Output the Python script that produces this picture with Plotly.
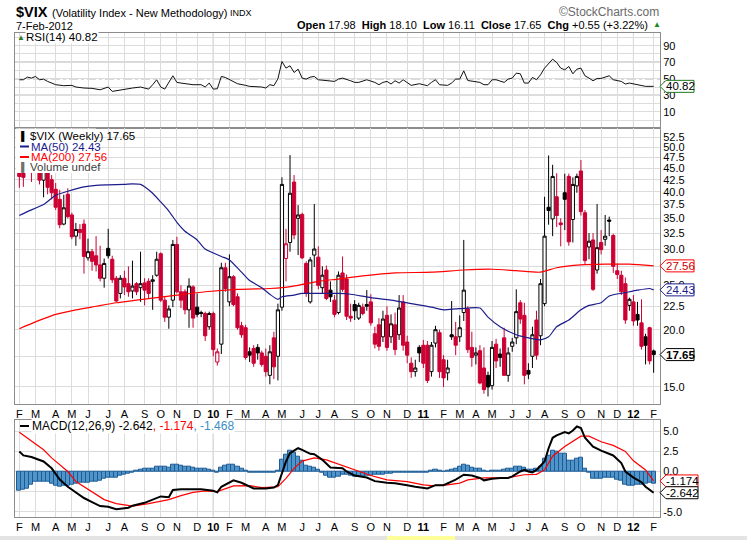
import math
import pandas as pd
import plotly.graph_objects as go

W, H = 747, 540
FONT = "Liberation Sans, Arial, sans-serif"
GRID = "#dcdcdc"
YEARLINE = "#a8a8a8"
FRAME = "#8c8c8c"
RED = "#cc0033"

# weekly bars, first bar is the week of 2009-02-02, last is the partial week of 2012-02-06
start_week = "2009-02-02"

opens = [45.5, 44.8, 45.0, 49.9, 46.0, 49.3, 42.4, 45.9, 42.5, 40.5,
         38.5, 34.0, 39.5, 35.6, 32.0, 33.1, 34.0, 28.7, 29.6, 29.0,
         27.7, 25.9, 30.1, 28.5, 25.9, 24.0, 25.9, 25.2, 24.3, 25.2,
         24.7, 25.3, 25.5, 25.5, 26.3, 29.3, 23.2, 21.3, 23.2, 30.7,
         24.2, 24.2, 22.1, 24.8, 22.4, 21.8, 21.7, 20.3, 21.7, 17.0,
         18.6, 27.3, 23.0, 26.1, 23.6, 20.4, 20.2, 17.9, 18.2, 18.3,
         17.8, 17.5, 15.9, 19.2, 17.5, 22.4, 28.6, 31.0, 42.0, 35.0,
         35.7, 27.9, 23.0, 29.1, 28.8, 24.7, 27.0, 24.4, 23.2, 21.8,
         26.6, 25.8, 21.4, 22.7, 21.2, 22.4, 22.7, 23.0, 19.6, 20.5,
         19.3, 21.5, 19.3, 20.5, 19.5, 23.0, 18.8, 16.9, 16.2, 18.3,
         18.5, 18.5, 16.2, 18.7, 19.7, 17.2, 16.1, 19.5, 19.3, 19.3,
         21.8, 22.2, 18.3, 17.6, 18.0, 16.5, 15.9, 15.1, 18.6, 17.7,
         19.2, 15.9, 18.4, 19.2, 22.9, 21.5, 16.3, 17.5, 21.0, 19.4,
         22.8, 37.0, 34.9, 39.0, 34.2, 39.8, 43.2, 34.8, 41.2, 44.4,
         36.0, 30.3, 31.4, 27.0, 31.0, 31.5, 34.7, 32.1, 26.9, 26.3,
         25.2, 22.6, 23.0, 21.6, 20.7, 19.3, 20.2, 17.98]
highs = [47.8, 46.5, 51.5, 52.5, 53.2, 50.0, 47.0, 46.5, 43.5, 41.8,
         40.4, 39.4, 40.7, 36.0, 34.2, 34.0, 34.8, 31.6, 30.0, 32.0,
         30.5, 28.6, 33.2, 29.0, 26.2, 26.3, 26.9, 27.5, 28.3, 25.4,
         29.6, 25.9, 25.9, 26.3, 29.6, 29.5, 23.6, 22.6, 31.4, 31.9,
         25.0, 24.5, 25.9, 25.0, 24.0, 22.0, 21.9, 21.9, 21.9, 18.2,
         28.0, 28.0, 29.2, 26.3, 24.0, 20.8, 20.5, 18.3, 18.5, 18.6,
         18.0, 18.2, 18.5, 19.8, 22.8, 43.0, 33.2, 48.1, 43.5, 37.4,
         36.0, 28.2, 28.8, 37.6, 30.4, 27.5, 27.6, 25.5, 23.8, 26.8,
         28.9, 26.4, 22.8, 23.2, 22.9, 22.8, 24.4, 23.9, 20.3, 21.2,
         22.0, 22.5, 21.6, 21.8, 23.8, 23.8, 19.4, 17.4, 17.2, 18.5,
         19.0, 18.9, 18.8, 20.4, 20.0, 17.6, 17.2, 23.1, 20.8, 21.5,
         31.4, 22.5, 19.8, 18.3, 18.5, 18.3, 16.2, 18.9, 19.1, 18.2,
         20.2, 18.3, 19.2, 24.5, 23.2, 22.9, 16.9, 20.3, 22.0, 25.8,
         39.0, 48.0, 45.8, 43.9, 35.0, 43.8, 43.8, 43.0, 43.8, 46.9,
         36.5, 32.5, 32.5, 37.6, 33.0, 35.6, 35.3, 32.4, 27.9, 26.9,
         26.0, 23.5, 23.8, 23.0, 23.3, 19.6, 20.3, 18.10]
lows = [40.8, 41.0, 44.8, 42.0, 45.0, 41.5, 38.9, 39.5, 38.5, 36.5,
        33.3, 33.8, 35.0, 31.5, 30.5, 31.5, 26.5, 28.3, 26.9, 26.8,
        25.5, 24.7, 28.6, 25.3, 23.0, 23.4, 23.8, 23.6, 23.4, 23.8,
        23.0, 22.6, 23.4, 22.1, 26.1, 23.0, 20.8, 20.1, 22.4, 24.0,
        22.3, 21.6, 20.2, 20.2, 21.3, 21.3, 18.9, 20.0, 17.5, 16.7,
        17.7, 24.2, 22.5, 22.5, 20.0, 19.2, 17.2, 17.0, 16.6, 17.2,
        16.6, 15.8, 15.2, 15.6, 15.5, 22.0, 25.5, 29.6, 31.5, 29.1,
        28.5, 23.6, 22.8, 27.4, 24.5, 24.0, 23.2, 23.0, 21.3, 21.6,
        24.2, 21.0, 20.8, 21.0, 21.0, 21.5, 22.0, 20.4, 18.2, 18.0,
        18.8, 18.0, 18.7, 17.6, 19.0, 18.0, 16.9, 15.7, 15.8, 17.0,
        16.5, 15.3, 15.8, 18.3, 15.7, 15.0, 15.5, 19.0, 17.6, 18.8,
        20.9, 17.8, 16.6, 16.8, 15.2, 14.5, 14.3, 14.8, 16.5, 16.6,
        15.9, 15.4, 17.9, 18.6, 20.6, 15.2, 15.6, 16.5, 17.2, 18.5,
        22.5, 33.9, 32.0, 33.5, 30.4, 33.0, 30.5, 31.0, 39.8, 35.5,
        27.8, 28.5, 24.3, 26.5, 29.2, 30.5, 32.0, 26.6, 25.8, 23.8,
        20.6, 22.0, 20.4, 20.4, 18.1, 16.8, 16.8, 16.11]
closes = [43.2, 43.0, 49.9, 46.4, 49.3, 42.4, 45.9, 40.9, 39.8, 37.0,
          33.9, 36.9, 35.3, 31.9, 33.1, 32.6, 28.9, 29.6, 28.2, 27.7,
          25.9, 27.9, 29.0, 25.7, 23.1, 25.9, 24.8, 24.2, 24.9, 24.2,
          25.2, 24.4, 24.0, 25.7, 28.5, 23.2, 21.3, 22.2, 30.7, 24.2,
          23.2, 22.1, 24.9, 21.2, 21.6, 21.7, 19.4, 21.7, 18.1, 17.9,
          27.3, 24.6, 26.1, 22.7, 20.2, 19.5, 17.4, 17.6, 16.9, 17.8,
          16.8, 16.2, 17.9, 16.6, 22.1, 41.5, 30.8, 39.7, 32.2, 35.6,
          28.7, 24.0, 28.4, 30.0, 25.0, 26.3, 23.4, 23.6, 21.6, 26.3,
          24.5, 21.4, 21.2, 22.0, 22.6, 21.7, 22.5, 20.7, 18.6, 18.4,
          21.1, 18.3, 20.6, 18.1, 22.3, 18.5, 17.6, 16.2, 16.5, 17.8,
          16.9, 15.5, 18.5, 20.0, 16.2, 15.7, 16.5, 19.3, 18.5, 20.2,
          24.4, 18.1, 17.4, 17.8, 15.3, 14.8, 15.0, 18.3, 17.1, 17.4,
          15.9, 17.8, 18.8, 21.9, 21.1, 15.9, 16.0, 19.5, 17.6, 25.2,
          32.0, 36.4, 43.2, 35.5, 33.9, 38.5, 31.1, 41.5, 43.2, 36.2,
          28.3, 31.2, 24.5, 30.2, 29.9, 32.0, 34.5, 27.5, 26.4, 24.2,
          21.0, 23.3, 20.9, 21.0, 18.4, 18.5, 17.1, 17.65]

# moving averages: (week number, value)
ma50_weeks = [0, 2, 6, 9, 12, 16, 19, 22, 26, 28, 30, 31, 33, 35, 37, 39, 41, 44, 46,
              50, 52, 55, 57, 60, 62, 64, 65, 68, 70, 74, 79, 82, 87, 92, 97, 102, 105,
              108, 111, 114, 116, 119, 123, 126, 129, 131, 133, 136, 139, 141, 144, 146,
              150, 153, 156, 157]
ma50 = [35.5, 36.2, 37.5, 39.3, 40.1, 41.0, 41.3, 41.4, 41.5, 41.6, 41.5, 41.0, 39.7,
        38.0, 36.3, 34.3, 32.8, 31.4, 30.0, 28.9, 28.4, 26.7, 25.6, 24.7, 23.9, 23.3,
        23.6, 23.8, 24.0, 24.0, 24.0, 23.9, 23.5, 23.2, 22.8, 22.4, 22.1, 22.2, 22.3,
        22.3, 21.3, 20.3, 19.5, 19.2, 19.0, 19.3, 20.3, 21.0, 22.1, 22.6, 22.9, 23.7,
        24.1, 24.4, 24.6, 24.43]
ma200_weeks = [0, 4, 9, 14, 19, 24, 29, 34, 39, 46, 54, 62, 65, 69, 74, 79, 85, 93,
               102, 110, 117, 123, 129, 133, 139, 145, 151, 157]
ma200 = [20.1, 20.8, 21.6, 22.1, 22.5, 22.9, 23.2, 23.5, 23.8, 24.2, 24.5, 24.6, 24.7,
         25.0, 25.5, 25.8, 26.2, 26.6, 26.7, 27.0, 27.1, 26.9, 26.7, 27.3, 27.7, 27.8,
         27.8, 27.56]

rsi_weeks = [0, 1, 2, 3, 4, 5, 6, 7, 9, 11, 13, 14, 16, 18, 20, 22, 23, 25, 26, 28,
             30, 32, 33, 34, 35, 36, 38, 39, 40, 41, 43, 45, 46, 47, 48, 49, 50, 51,
             52, 54, 56, 57, 60, 61, 62, 63, 64, 65, 66, 67, 68, 69, 70, 71, 72, 73,
             74, 76, 78, 79, 80, 82, 83, 84, 86, 88, 89, 90, 91, 92, 93, 94, 95, 97,
             99, 100, 101, 102, 103, 104, 106, 107, 108, 109, 110, 111, 113, 114, 115,
             116, 117, 118, 120, 121, 122, 123, 124, 125, 126, 127, 128, 129, 130,
             131, 132, 133, 134, 135, 136, 137, 138, 139, 140, 141, 142, 143, 144,
             146, 147, 149, 150, 151, 153, 154, 155, 157]
rsi = [48.8, 48.8, 52.0, 50.8, 52.8, 48.8, 49.5, 46.8, 42.8, 41.6, 42.0, 40.0, 38.8,
       38.4, 36.7, 40.0, 34.7, 36.7, 37.5, 38.8, 40.0, 37.5, 42.8, 48.8, 40.0, 37.5,
       53.6, 45.6, 44.8, 44.0, 42.8, 42.8, 40.0, 44.8, 37.5, 37.9, 52.8, 51.6, 48.8,
       44.0, 42.0, 40.8, 40.0, 38.8, 42.8, 41.6, 50.0, 70.9, 62.9, 65.7, 57.6, 61.6,
       50.8, 49.6, 52.0, 52.8, 48.8, 47.6, 46.8, 49.6, 50.8, 47.6, 45.6, 45.6, 48.8,
       45.6, 42.8, 45.6, 46.8, 43.6, 47.6, 44.8, 48.8, 42.0, 44.0, 42.8, 41.6, 45.6,
       48.8, 42.8, 42.0, 44.8, 49.6, 49.6, 59.6, 47.9, 46.8, 45.6, 42.8, 42.8, 48.8,
       48.8, 45.6, 49.6, 50.8, 56.8, 56.0, 44.8, 44.8, 51.6, 48.8, 54.8, 62.9, 67.7,
       73.7, 69.7, 62.9, 60.8, 64.9, 56.0, 61.6, 62.9, 53.6, 50.8, 47.6, 50.4, 50.4,
       53.6, 48.8, 46.8, 43.6, 44.8, 42.8, 42.0, 40.8, 40.82]

macd_weeks = [0, 1, 3, 4, 6, 8, 10, 12, 14, 16, 18, 20, 22, 24, 27, 28, 31, 33, 35, 37,
              38, 40, 42, 45, 48, 49, 50, 53, 55, 57, 58, 61, 63, 64, 65, 66, 67, 69,
              70, 72, 73, 75, 77, 80, 81, 83, 86, 88, 91, 93, 96, 98, 101, 103, 105,
              108, 110, 112, 114, 115, 117, 119, 121, 122, 124, 125, 126, 127, 128,
              130, 131, 132, 133, 135, 136, 137, 138, 139, 140, 142, 144, 145, 147,
              149, 150, 152, 154, 155, 157]
macd = [2.5, 2.0, 1.8, 1.6, 1.25, 0.4, -1.0, -1.9, -2.6, -3.3, -3.8, -4.3, -4.4, -4.7,
        -4.5, -4.25, -3.9, -3.5, -3.1, -3.2, -2.3, -2.2, -2.2, -2.2, -2.4, -2.6, -1.9,
        -1.1, -1.4, -1.9, -2.1, -2.1, -2.0, -1.7, -0.2, 1.25, 2.3, 2.9, 2.7, 2.2, 2.15,
        1.45, 0.5, 0.4, 0.0, -0.5, -0.75, -1.2, -1.4, -1.45, -1.7, -1.9, -2.1, -1.7,
        -1.7, -1.0, -0.4, -0.5, -0.8, -1.1, -0.9, -0.8, -0.8, -0.6, 0.0, 0.2, 0.0, -0.1,
        0.2, 1.25, 2.9, 4.2, 4.5, 4.9, 4.75, 5.1, 5.6, 5.4, 4.2, 3.1, 2.6, 2.4, 2.0,
        1.05, 0.0, -0.75, -1.33, -1.9, -2.642]
signal_weeks = [0, 4, 6, 8, 12, 14, 18, 21, 24, 28, 32, 37, 40, 43, 46, 49, 53, 57, 60,
                64, 66, 68, 70, 73, 76, 79, 83, 87, 91, 96, 100, 102, 106, 109, 111,
                115, 118, 121, 125, 128, 130, 132, 135, 137, 139, 141, 144, 147, 150,
                152, 155, 157]
signal = [4.9, 3.5, 2.7, 1.7, 0.0, -1.25, -2.5, -3.5, -4.0, -4.3, -4.0, -3.5, -3.0,
          -2.6, -2.4, -2.5, -1.8, -1.75, -2.0, -1.9, -0.85, 0.4, 1.3, 1.7, 1.45, 0.9,
          0.2, -0.5, -1.05, -1.25, -1.67, -1.75, -1.67, -1.45, -1.05, -0.8, -0.8,
          -0.75, -0.4, -0.35, 0.2, 1.9, 3.1, 3.75, 4.4, 4.4, 3.7, 3.25, 2.5, 1.33,
          0.2, -1.174]
# histogram, one value per week
hist = [-2.4, -2.3, -2.1, -1.6, -1.3, -1.25, -1.3, -1.3, -1.5, -1.8,
        -1.9, -1.75, -1.8, -1.7, -1.55, -1.45, -1.4, -1.35, -1.25, -1.25,
        -1.1, -0.95, -0.8, -0.75, -0.75, -0.55, -0.4, -0.25, -0.1, 0.1,
        0.25, 0.3, 0.35, 0.4, 0.55, 0.65, 0.6, 0.45, 0.9, 0.8,
        0.7, 0.6, 0.55, 0.45, 0.4, 0.35, 0.3, 0.2, 0.12, -0.1,
        0.5, 0.7, 0.85, 0.85, 0.6, 0.3, 0.05, -0.1, -0.15, -0.2,
        -0.2, -0.15, -0.15, -0.15, 0.1, 1.5, 2.1, 2.6, 2.3, 1.9,
        1.3, 0.7, 0.55, 0.45, 0.2, -0.2, -0.55, -0.75, -0.75, -0.6,
        -0.45, -0.45, -0.55, -0.65, -0.7, -0.65, -0.55, -0.5, -0.4, -0.35,
        -0.35, -0.3, -0.25, -0.2, -0.2, -0.2, -0.15, -0.12, -0.1, -0.15,
        -0.2, -0.15, 0.05, 0.2, 0.1, 0.0, 0.05, 0.2, 0.4, 0.6,
        0.9, 0.7, 0.5, 0.4, 0.3, 0.1, 0.0, 0.1, 0.1, 0.15,
        0.2, 0.35, 0.4, 0.55, 0.65, 0.45, 0.25, 0.2, 0.3, 0.6,
        1.6, 2.0, 2.6, 2.5, 2.2, 2.2, 1.35, 1.4, 1.6, 1.7,
        0.35, -0.2, -0.9, -0.95, -0.95, -0.8, -0.75, -0.8, -1.05, -1.15,
        -1.6, -1.75, -1.8, -1.65, -1.6, -1.5, -1.45, -1.468]

# axis labels; the ones hidden behind the value tags in the original are left blank
price_ticks = [15.0, 17.5, 20.0, 22.5, 25.0, 27.5, 30.0, 32.5, 35.0, 37.5,
               40.0, 42.5, 45.0, 47.5, 50.0, 52.5]
price_labels = ["15.0", "", "20.0", "22.5", "25.0", "", "30.0", "32.5", "35.0", "37.5",
                "40.0", "42.5", "45.0", "47.5", "50.0", "52.5"]
rsi_ticks = [0, 10, 20, 30, 40, 50, 60, 70, 80, 90, 100]
rsi_labels = ["", "10", "", "30", "", "50", "", "70", "", "90", ""]
macd_ticks = [-5.0, -2.5, 0.0, 2.5, 5.0]
macd_labels = ["-5.0", "", "0.0", "2.5", "5.0"]


def px(x):
    return x / W


def py(y):
    return 1 - y / H


dates = pd.date_range(start_week, periods=len(closes), freq="7D")

# month ticks at the first bar of each month, the year number for January
tick_dates, tick_text, year_dates = [], [], []
for i, d in enumerate(dates):
    if i == 0 or d.month != dates[i - 1].month:
        tick_dates.append(d)
        if d.month == 1:
            tick_text.append("<b>" + d.strftime("%y") + "</b>")
            year_dates.append(d)
        else:
            tick_text.append(d.strftime("%b")[0])

x_range = [dates[0] - pd.Timedelta(days=7.5), dates[-1] + pd.Timedelta(days=11)]

fig = go.Figure()

# ---- RSI panel
fig.add_trace(go.Scatter(x=dates[rsi_weeks], y=rsi, mode="lines",
                         line=dict(color="#111111", width=1), xaxis="x", yaxis="y"))

# ---- price panel: black when close is up on the week, red when down
up = [i for i in range(len(closes)) if (closes[i] >= closes[i - 1] if i else closes[i] >= opens[i])]
down = [i for i in range(len(closes)) if i not in up]


def candles(idx, color, fill_down):
    return go.Candlestick(
        x=dates[idx], open=[opens[i] for i in idx], high=[highs[i] for i in idx],
        low=[lows[i] for i in idx], close=[closes[i] for i in idx],
        increasing=dict(line=dict(color=color, width=1), fillcolor="white"),
        decreasing=dict(line=dict(color=color, width=1), fillcolor=fill_down),
        whiskerwidth=0, xaxis="x2", yaxis="y2", hoverinfo="skip")


fig.add_trace(candles(up, "#000000", "#000000"))
fig.add_trace(candles(down, RED, RED))
fig.add_trace(go.Scatter(x=dates[ma200_weeks], y=ma200, mode="lines",
                         line=dict(color="#ff0000", width=1.2, shape="spline", smoothing=0.6),
                         xaxis="x2", yaxis="y2"))
fig.add_trace(go.Scatter(x=dates[ma50_weeks], y=ma50, mode="lines",
                         line=dict(color="#1c1c8c", width=1.2, shape="spline", smoothing=0.6),
                         xaxis="x2", yaxis="y2"))

# ---- MACD panel
fig.add_trace(go.Bar(x=dates, y=hist, marker=dict(color="#4f95c9", line=dict(color="#1d5a96", width=1)),
                     xaxis="x3", yaxis="y3"))
fig.add_trace(go.Scatter(x=dates[signal_weeks], y=signal, mode="lines",
                         line=dict(color="#ff0000", width=1.2), xaxis="x3", yaxis="y3"))
fig.add_trace(go.Scatter(x=dates[macd_weeks], y=macd, mode="lines",
                         line=dict(color="#000000", width=2), xaxis="x3", yaxis="y3"))

tickfont = dict(family=FONT, size=11, color="#000000")
xbase = dict(type="date", range=x_range, domain=[px(15), px(660)], tickvals=tick_dates,
             ticktext=tick_text, showgrid=True, gridcolor=GRID, showline=True, mirror=True,
             linecolor=FRAME, ticks="", tickfont=tickfont, zeroline=False, fixedrange=True)
ybase = dict(side="right", showgrid=True, gridcolor=GRID, showline=True, mirror=True,
             linecolor=FRAME, ticks="", tickfont=tickfont, zeroline=False, fixedrange=True)

fig.update_layout(
    width=W, height=H, margin=dict(l=0, r=0, t=0, b=0),
    paper_bgcolor="white", plot_bgcolor="white", showlegend=False,
    bargap=0, boxgap=0.12, boxgroupgap=0.1,
    xaxis=dict(xbase, anchor="y", showticklabels=False),
    xaxis2=dict(xbase, anchor="y2", matches="x", rangeslider=dict(visible=False)),
    xaxis3=dict(xbase, anchor="y3", matches="x"),
    yaxis=dict(ybase, anchor="x", domain=[py(128), py(32.5)], range=[-9.6, 106],
               tickvals=rsi_ticks, ticktext=rsi_labels),
    yaxis2=dict(ybase, anchor="x2", domain=[py(404), py(128)], type="log",
                range=[math.log10(13.77), math.log10(55.1)],
                tickvals=price_ticks, ticktext=price_labels),
    yaxis3=dict(ybase, anchor="x3", domain=[py(516.5), py(419.7)], range=[-5.6, 6.45],
                tickvals=macd_ticks, ticktext=macd_labels),
)

shapes = []
# darker lines at the turn of each year
for yd in year_dates:
    for xr, yr in (("x", "y"), ("x2", "y2"), ("x3", "y3")):
        shapes.append(dict(type="line", xref=xr, yref=yr + " domain", x0=yd, x1=yd, y0=0, y1=1,
                           line=dict(color=YEARLINE, width=1), layer="below"))
# RSI 70 / 50 / 30
for lvl, dash in ((70, "solid"), (30, "solid"), (50, "dashdot")):
    shapes.append(dict(type="line", xref="x domain", yref="y", x0=0, x1=1, y0=lvl, y1=lvl,
                       line=dict(color="#6a6a6a", width=1, dash=dash), layer="below"))
# white box behind the price legend
shapes.append(dict(type="rect", xref="paper", yref="paper", x0=px(16), x1=px(96),
                   y0=py(173), y1=py(128.6), fillcolor="white", line=dict(width=0)))
# legend line swatches
shapes.append(dict(type="line", xref="paper", yref="paper", x0=px(20), x1=px(29),
                   y0=py(146.5), y1=py(146.5), line=dict(color="#1c1c8c", width=2)))
shapes.append(dict(type="line", xref="paper", yref="paper", x0=px(20), x1=px(29),
                   y0=py(157), y1=py(157), line=dict(color="#ff0000", width=2)))
shapes.append(dict(type="line", xref="paper", yref="paper", x0=px(20), x1=px(29),
                   y0=py(426), y1=py(426), line=dict(color="#000000", width=2)))
# strip at the bottom of the page
shapes.append(dict(type="rect", xref="paper", yref="paper", x0=0, x1=1, y0=0, y1=py(536),
                   fillcolor="#e4e4e4", line=dict(width=0)))
shapes.append(dict(type="rect", xref="paper", yref="paper", x0=px(387), x1=px(455), y0=0,
                   y1=py(536), fillcolor="#ffff99", line=dict(width=0)))

annotations = []


def note(x, y, text, size=11, color="#000000", anchor="left", bg=None):
    a = dict(xref="paper", yref="paper", x=px(x), y=py(y), text=text, showarrow=False,
             xanchor=anchor, yanchor="middle", borderpad=0,
             font=dict(family=FONT, size=size, color=color))
    if bg:
        a["bgcolor"] = bg
    annotations.append(a)


def value_tag(yref, value, text, color, textcolor, bold=False, log=False, width=34):
    shapes.append(dict(type="path", xref="paper", xsizemode="pixel", xanchor=px(660),
                       yref=yref, ysizemode="pixel", yanchor=value,
                       path="M0,0 L6,6 L%d,6 L%d,-6 L6,-6 Z" % (width, width),
                       fillcolor="white", line=dict(color=color, width=1)))
    annotations.append(dict(xref="paper", yref=yref, x=px(660 + (width + 6) / 2 + 0.5),
                            y=math.log10(value) if log else value,
                            text="<b>%s</b>" % text if bold else text, showarrow=False,
                            xanchor="center", yanchor="middle",
                            font=dict(family=FONT, size=11.5, color=textcolor)))


# header
note(15, 12, "<b>$VIX</b>", size=14.5)
note(51, 13, "(Volatility Index - New Methodology)", size=11)
note(229, 13, "INDX", size=9)
note(15, 26, "7-Feb-2012", size=11)
note(649, 25, "<b>Open</b> 17.98&nbsp; <b>High</b> 18.10&nbsp; <b>Low</b> 16.11&nbsp; "
     "<b>Close</b> 17.65&nbsp; <b>Chg</b> +0.55 (+3.22%)", size=11, anchor="right")
note(652, 25, "\u25b2", size=8, color="#1a8a1a")
note(660, 12, "\u00a9StockCharts.com", size=12, color="#6a6a6a", anchor="right")

# panel legends
note(16, 37.5, "\u25b2", size=8, color="#2e7d32")
note(25, 37.5, "RSI(14) 40.82", size=11.5, bg="white")
note(17, 135.5, "\u2590", size=9, color="#000000")
note(29, 135.5, "$VIX (Weekly) 17.65", size=11.5)
note(30, 146.5, "MA(50) 24.43", size=11.5, color="#1c1c8c")
note(30, 157, "MA(200) 27.56", size=11.5, color="#ff0000")
note(17, 167.5, "\u2590", size=9, color="#707070")
note(29, 167.5, "Volume undef", size=11.5, color="#404040")
note(31, 426, "MACD(12,26,9) -2.642<span style='color:#ff0000'>, -1.174</span>"
     "<span style='color:#3c8dc4'>, -1.468</span>", size=12, bg="white")

# value tags on the right
value_tag("y", 40.82, "40.82", "#1f7a1f", "#000000")
value_tag("y2", 27.56, "27.56", "#ff0000", "#cc0000", log=True)
value_tag("y2", 24.43, "24.43", "#1c1c8c", "#1c1c8c", log=True)
value_tag("y2", 17.65, "17.65", "#000000", "#000000", bold=True, log=True)
value_tag("y3", -1.174, "-1.174", "#ff0000", "#000000", width=38)
value_tag("y3", -2.642, "-2.642", "#000000", "#000000", width=38)

fig.update_layout(shapes=shapes, annotations=annotations)

# the page is photographed from its top-left corner, so drop the body margin
fig.write_html("out.html", config={"displayModeBar": False},
               post_script="document.body.style.margin='0px';")
